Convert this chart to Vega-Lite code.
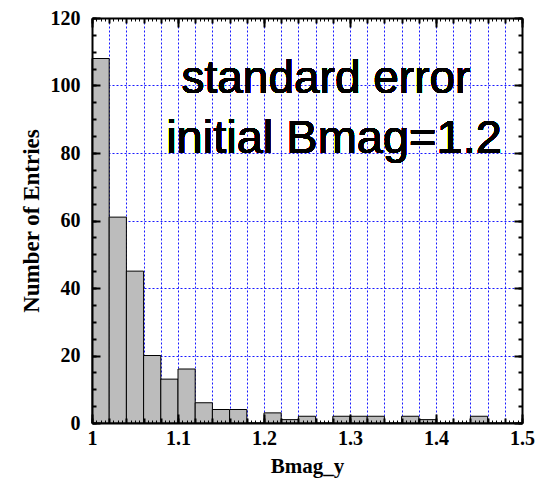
{
  "$schema": "https://vega.github.io/schema/vega-lite/v6.json",
  "width": 430,
  "height": 405,
  "autosize": "none",
  "padding": {"left": 92, "top": 18, "right": 15, "bottom": 59},
  "background": "white",
  "config": {"view": {"stroke": null}, "axis": {"titleFont": "Liberation Serif", "titleFontWeight": "bold", "titleColor": "black", "titleLimit": 1000}},
  "data": {"values": [
    {"start": 1.00, "end": 1.02, "count": 108},
    {"start": 1.02, "end": 1.04, "count": 61},
    {"start": 1.04, "end": 1.06, "count": 45},
    {"start": 1.06, "end": 1.08, "count": 20},
    {"start": 1.08, "end": 1.10, "count": 13},
    {"start": 1.10, "end": 1.12, "count": 16},
    {"start": 1.12, "end": 1.14, "count": 6},
    {"start": 1.14, "end": 1.16, "count": 4},
    {"start": 1.16, "end": 1.18, "count": 4},
    {"start": 1.18, "end": 1.20, "count": 0},
    {"start": 1.20, "end": 1.22, "count": 3},
    {"start": 1.22, "end": 1.24, "count": 1},
    {"start": 1.24, "end": 1.26, "count": 2},
    {"start": 1.26, "end": 1.28, "count": 0},
    {"start": 1.28, "end": 1.30, "count": 2},
    {"start": 1.30, "end": 1.32, "count": 2},
    {"start": 1.32, "end": 1.34, "count": 2},
    {"start": 1.34, "end": 1.36, "count": 0},
    {"start": 1.36, "end": 1.38, "count": 2},
    {"start": 1.38, "end": 1.40, "count": 1},
    {"start": 1.40, "end": 1.42, "count": 0},
    {"start": 1.42, "end": 1.44, "count": 0},
    {"start": 1.44, "end": 1.46, "count": 2},
    {"start": 1.46, "end": 1.48, "count": 0},
    {"start": 1.48, "end": 1.50, "count": 0}
  ]},
  "resolve": {"axis": {"x": "independent", "y": "independent"}},
  "layer": [
    {
      "mark": {"type": "rect", "fill": "#bcbcbc", "stroke": "black", "strokeWidth": 1},
      "encoding": {
        "x": {"field": "start", "type": "quantitative",
          "scale": {"domain": [1, 1.5], "nice": false, "zero": false},
          "axis": {"orient": "bottom", "tickCount": 5, "format": "~g", "ticks": false, "grid": false,
            "domain": true, "domainColor": "black", "domainWidth": 2,
            "labelFont": "Liberation Serif", "labelFontWeight": "bold", "labelFontSize": 20, "labelColor": "black",
            "labelPadding": 5, "labelFlush": false, "labelOverlap": false,
            "title": "Bmag_y", "titleFont": "Liberation Serif", "titleFontWeight": "bold", "titleFontSize": 21, "titleColor": "black", "titlePadding": 7,
            "zindex": 1}},
        "x2": {"field": "end"},
        "y": {"field": "count", "type": "quantitative",
          "scale": {"domain": [0, 120], "nice": false},
          "axis": {"orient": "left", "tickCount": 6, "ticks": false, "grid": false,
            "domain": true, "domainColor": "black", "domainWidth": 2,
            "labelFont": "Liberation Serif", "labelFontWeight": "bold", "labelFontSize": 20, "labelColor": "black",
            "labelPadding": 12, "labelFlush": false, "labelOverlap": false,
            "title": "Number of Entries", "titleFont": "Liberation Serif", "titleFontWeight": "bold", "titleFontSize": 23, "titleColor": "black", "titlePadding": 7,
            "zindex": 1}},
        "y2": {"datum": 0}
      }
    },
    {
      "mark": {"type": "rect", "opacity": 0},
      "encoding": {
        "x": {"field": "start", "type": "quantitative",
          "scale": {"domain": [1, 1.5], "nice": false, "zero": false},
          "axis": {"orient": "bottom", "tickCount": 25, "ticks": false, "labels": false, "domain": false, "title": null,
            "grid": true, "gridColor": "#0000ff", "gridDash": [2, 2], "gridWidth": 1, "gridOpacity": 0.9, "zindex": 0}},
        "x2": {"field": "end"},
        "y": {"field": "count", "type": "quantitative",
          "scale": {"domain": [0, 120], "nice": false},
          "axis": {"orient": "left", "tickCount": 6, "ticks": false, "labels": false, "domain": false, "title": null,
            "grid": true, "gridColor": "#0000ff", "gridDash": [2, 2], "gridWidth": 1, "gridOpacity": 0.9, "zindex": 0}},
        "y2": {"datum": 0}
      }
    },
    {
      "mark": {"type": "rect", "opacity": 0},
      "encoding": {
        "x": {"field": "start", "type": "quantitative",
          "scale": {"domain": [1, 1.5], "nice": false, "zero": false},
          "axis": {"orient": "bottom", "tickCount": 5, "ticks": true, "tickSize": -9, "tickWidth": 2, "tickColor": "black",
            "labels": false, "domain": false, "title": null, "grid": false, "zindex": 1}},
        "x2": {"field": "end"},
        "y": {"field": "count", "type": "quantitative",
          "scale": {"domain": [0, 120], "nice": false},
          "axis": {"orient": "left", "tickCount": 6, "ticks": true, "tickSize": -8, "tickWidth": 2, "tickColor": "black",
            "labels": false, "domain": false, "title": null, "grid": false, "zindex": 1}},
        "y2": {"datum": 0}
      }
    },
    {
      "mark": {"type": "rect", "opacity": 0},
      "encoding": {
        "x": {"field": "start", "type": "quantitative",
          "scale": {"domain": [1, 1.5], "nice": false, "zero": false},
          "axis": {"orient": "bottom", "tickCount": 25, "ticks": true, "tickSize": -5, "tickWidth": 2, "tickColor": "black",
            "labels": false, "domain": false, "title": null, "grid": false, "zindex": 1}},
        "x2": {"field": "end"},
        "y": {"field": "count", "type": "quantitative",
          "scale": {"domain": [0, 120], "nice": false},
          "axis": {"orient": "left", "tickCount": 24, "ticks": true, "tickSize": -4, "tickWidth": 2, "tickColor": "black",
            "labels": false, "domain": false, "title": null, "grid": false, "zindex": 1}},
        "y2": {"datum": 0}
      }
    },
    {
      "mark": {"type": "rect", "opacity": 0},
      "encoding": {
        "x": {"field": "start", "type": "quantitative",
          "scale": {"domain": [1, 1.5], "nice": false, "zero": false},
          "axis": {"orient": "bottom", "tickCount": 100, "ticks": true, "tickSize": -3, "tickWidth": 1, "tickColor": "black",
            "labels": false, "domain": false, "title": null, "grid": false, "zindex": 1}},
        "x2": {"field": "end"},
        "y": {"field": "count", "type": "quantitative",
          "scale": {"domain": [0, 120], "nice": false},
          "axis": {"orient": "right", "tickCount": 6, "ticks": true, "tickSize": -8, "tickWidth": 2, "tickColor": "black",
            "labels": false, "domain": true, "domainColor": "black", "domainWidth": 2, "title": null, "grid": false, "zindex": 1}},
        "y2": {"datum": 0}
      }
    },
    {
      "mark": {"type": "rect", "opacity": 0},
      "encoding": {
        "x": {"field": "start", "type": "quantitative",
          "scale": {"domain": [1, 1.5], "nice": false, "zero": false},
          "axis": {"orient": "top", "tickCount": 5, "ticks": true, "tickSize": -9, "tickWidth": 2, "tickColor": "black",
            "labels": false, "domain": true, "domainColor": "black", "domainWidth": 2, "title": null, "grid": false, "zindex": 1}},
        "x2": {"field": "end"},
        "y": {"field": "count", "type": "quantitative",
          "scale": {"domain": [0, 120], "nice": false},
          "axis": {"orient": "right", "tickCount": 24, "ticks": true, "tickSize": -4, "tickWidth": 2, "tickColor": "black",
            "labels": false, "domain": false, "title": null, "grid": false, "zindex": 1}},
        "y2": {"datum": 0}
      }
    },
    {
      "mark": {"type": "rect", "opacity": 0},
      "encoding": {
        "x": {"field": "start", "type": "quantitative",
          "scale": {"domain": [1, 1.5], "nice": false, "zero": false},
          "axis": {"orient": "top", "tickCount": 25, "ticks": true, "tickSize": -5, "tickWidth": 2, "tickColor": "black",
            "labels": false, "domain": false, "title": null, "grid": false, "zindex": 1}},
        "x2": {"field": "end"},
        "y": {"field": "count", "type": "quantitative", "scale": {"domain": [0, 120], "nice": false}, "axis": null},
        "y2": {"datum": 0}
      }
    },
    {
      "mark": {"type": "rect", "opacity": 0},
      "encoding": {
        "x": {"field": "start", "type": "quantitative",
          "scale": {"domain": [1, 1.5], "nice": false, "zero": false},
          "axis": {"orient": "top", "tickCount": 100, "ticks": true, "tickSize": -3, "tickWidth": 1, "tickColor": "black",
            "labels": false, "domain": false, "title": null, "grid": false, "zindex": 1}},
        "x2": {"field": "end"},
        "y": {"field": "count", "type": "quantitative", "scale": {"domain": [0, 120], "nice": false}, "axis": null},
        "y2": {"datum": 0}
      }
    },
    {
      "mark": {"type": "text", "text": "standard error", "font": "Liberation Sans", "fontSize": 46, "align": "center", "baseline": "alphabetic", "color": "black"},
      "encoding": {
        "x": {"datum": 1.272, "type": "quantitative", "scale": {"domain": [1, 1.5], "nice": false, "zero": false}, "axis": null},
        "y": {"datum": 97.8, "type": "quantitative", "scale": {"domain": [0, 120], "nice": false}, "axis": null}
      }
    },
    {
      "mark": {"type": "text", "text": "initial Bmag=1.2", "font": "Liberation Sans", "fontSize": 47, "align": "center", "baseline": "alphabetic", "color": "black"},
      "encoding": {
        "x": {"datum": 1.2814, "type": "quantitative", "scale": {"domain": [1, 1.5], "nice": false, "zero": false}, "axis": null},
        "y": {"datum": 80, "type": "quantitative", "scale": {"domain": [0, 120], "nice": false}, "axis": null}
      }
    }
  ]
}
